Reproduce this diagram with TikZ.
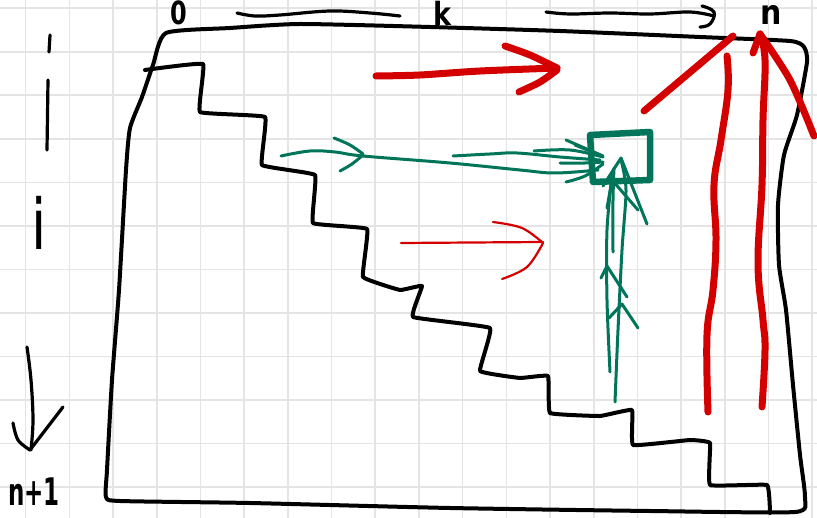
\documentclass[tikz,border=0pt]{standalone}
\usepackage{fontspec}
\setsansfont{DejaVu Sans}
\definecolor{penred}{HTML}{D40000}
\definecolor{pengreen}{HTML}{00755A}
\definecolor{gridgray}{HTML}{E4E4E4}
\begin{document}
\begin{tikzpicture}[x=1pt,y=-1pt,
  gridline/.style={gridgray,line width=1.6pt},
  blk/.style={line width=4pt,line cap=round,line join=round,black},
  blkthin/.style={line width=3.2pt,line cap=round,line join=round,black},
  redthick/.style={line width=7pt,line cap=round,line join=round,penred},
  redthin/.style={line width=2.2pt,line cap=round,line join=round,penred},
  grn/.style={line width=3pt,line cap=round,line join=round,pengreen},
  grnbox/.style={line width=6.5pt,line cap=round,line join=round,pengreen},
  lbl/.style={font=\sffamily\bfseries,transform shape,inner sep=0pt,anchor=base}]
\useasboundingbox (0,0) rectangle (817,518);
\fill[white] (0,0) rectangle (817,518);
% grid paper
\foreach \i in {0,...,18} \draw[gridline] ({25.6+43.7*\i},0) -- ({25.6+43.7*\i},518);
\foreach \j in {0,...,11} \draw[gridline] (0,{8.2+43.55*\j}) -- (817,{8.2+43.55*\j});

% top axis labels
\node[lbl,xscale=2.4,yscale=3.2] (lzero) at (179,25) {0};
\node[lbl,xscale=2.7,yscale=3.2] (lk) at (442,26) {k};
\node[lbl,xscale=3,yscale=3.4] (ln) at (771,25) {n};
\draw[blkthin] plot[smooth,tension=0.6] coordinates {(237,13) (255,16) (280,15) (330,11) (370,13) (400,16)};
\draw[blkthin] plot[smooth,tension=0.6] coordinates {(546,12) (570,14) (610,13) (650,14) (690,12) (714,16)};
\draw[blkthin] plot[smooth,tension=0.7] coordinates {(702,6) (714,12) (710,24) (700,27)};

% left axis
\draw[blkthin] (50,35) -- (49,52);
\draw[blkthin] (48,80) -- (47,150);
\node[lbl,font=\sffamily\mdseries,xscale=5.5,yscale=7] (li) at (39,250) {i};
\draw[blkthin] plot[smooth,tension=0.6] coordinates {(27,347) (31,380) (33,420) (31,450)};
\draw[blkthin] plot[smooth,tension=0.6] coordinates {(13,423) (18,440) (30,450)};
\draw[blkthin] (63,407) -- (30,450);
\node[lbl,xscale=2.3,yscale=3.8] (lnp) at (34,505) {n+1};

% outer box
\draw[blk] plot[smooth cycle,tension=0.35] coordinates {
  (166,33) (230,28) (300,24) (430,27) (560,31) (700,37) (790,41) (804,47)
  (807,62) (797,115) (784,155) (778,205) (779,265) (786,310) (793,385) (800,455) (805,498) (795,512)
  (650,511) (450,508) (250,503) (120,501) (106,497)
  (107,470) (112,380) (119,290) (126,170) (130,128) (142,97) (153,65)};

% staircase
\draw[blk] plot[smooth,tension=0.15] coordinates {
  (145,70) (203,64) (200,112) (265,117) (262,165) (315,175) (313,223) (367,229) (363,277)
  (400,290) (422,286) (413,317) (490,328) (480,371) (520,378) (548,376) (550,413) (600,416) (632,410)
  (633,445) (690,440) (710,443) (710,485) (767,485) (770,513)};

% red arrows
\draw[redthick] plot[smooth,tension=0.5] coordinates {(376,76) (420,75) (480,71) (557,68)};
\draw[redthick] plot[smooth,tension=0.5] coordinates {(505,46) (530,55) (557,68)};
\draw[redthick] plot[smooth,tension=0.5] coordinates {(519,92) (540,82) (557,70)};
\draw[redthin] (401,243) -- (543,242);
\draw[redthin] plot[smooth,tension=0.6] coordinates {(493,222) (522,228) (543,243)};
\draw[redthin] plot[smooth,tension=0.6] coordinates {(502,279) (527,267) (543,243)};
\draw[redthick] plot[smooth,tension=0.7] coordinates {(727,56) (728,90) (721,140) (714,185) (716,240) (713,290) (707,335) (708,412)};
\draw[redthick] plot[smooth,tension=0.7] coordinates {(760,34) (765,60) (763,120) (762,185) (758,263) (763,320) (765,350) (762,407)};
\draw[redthick] (753,53) -- (760,34);
\draw[redthick] plot[smooth,tension=0.5] coordinates {(760,34) (790,80) (814,136)};
\draw[redthick] (644,111) -- (733,36);

% green target cell
\draw[grnbox] (590,135) -- (650,132) -- (650,180) -- (593,182) -- cycle;
% green horizontal arrows
\draw[grn] plot[smooth,tension=0.6] coordinates {(281,156) (310,151) (335,152) (363,156) (450,163) (520,170) (555,173) (598,170)};
\draw[grn] plot[smooth,tension=0.6] coordinates {(334,138) (350,145) (363,154)};
\draw[grn] plot[smooth,tension=0.6] coordinates {(340,171) (352,164) (363,155)};
\draw[grn] plot[smooth,tension=0.6] coordinates {(453,156) (490,154) (517,153) (560,157) (600,160)};
\draw[grn] plot[smooth,tension=0.6] coordinates {(534,151) (570,150) (603,157)};
\draw[grn] (566,140) -- (603,156);
\draw[grn] (575,145) -- (600,155);
\draw[grn] plot[smooth,tension=0.6] coordinates {(560,163) (585,163) (603,162)};
\draw[grn] plot[smooth,tension=0.6] coordinates {(566,182) (585,176) (603,164)};
% green vertical arrows
\draw[grn] plot[smooth,tension=0.5] coordinates {(615,402) (618,330) (622,250) (626,190) (621,160)};
\draw[grn] plot[smooth,tension=0.5] coordinates {(610,372) (607,300) (607,230) (612,175)};
\draw[grn] plot[smooth,tension=0.5] coordinates {(613,252) (613,200) (614,168)};
\draw[grn] (601,278) -- (607,266) -- (627,297);
\draw[grn] (609,318) -- (622,304) -- (638,328);
\draw[grn] (603,186) -- (621,158) -- (647,224);
\draw[grn] (607,208) -- (612,180) -- (638,210);
\end{tikzpicture}
\end{document}
